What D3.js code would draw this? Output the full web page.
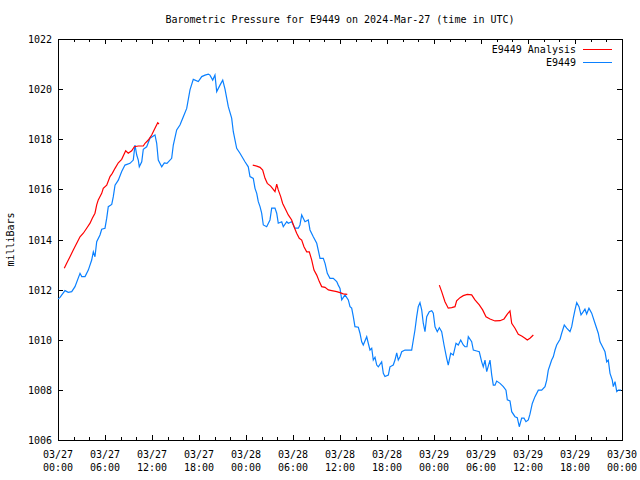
<!DOCTYPE html>
<html><head><meta charset="utf-8">
<script src="https://cdn.jsdelivr.net/npm/d3@7"></script>
<style>
body{margin:0;background:#fff;}
svg{display:block;}
text{font-family:"DejaVu Sans Mono",monospace;font-size:10px;fill:#000;}
</style></head>
<body>
<svg id="c" width="640" height="480"></svg>
<script>
// hours since 2024-03-27 00:00 UTC
const stationHours = [0.0,0.26,0.89,1.31,1.75,2.17,2.81,3.03,3.45,3.87,4.30,4.51,4.72,4.94,5.36,5.58,6.00,6.22,6.42,6.86,7.06,7.28,7.70,8.13,8.55,9.19,9.61,9.83,10.05,10.25,10.38,10.69,10.89,11.32,11.74,12.38,12.60,12.80,13.24,13.57,13.91,14.51,14.72,15.15,15.57,16.00,16.43,16.85,17.27,17.91,18.35,18.77,19.19,19.40,19.75,20.04,20.26,20.68,21.03,21.32,21.74,22.17,22.38,22.81,23.23,23.87,24.29,24.51,24.93,25.15,25.37,25.57,25.79,26.00,26.21,26.64,27.06,27.28,27.70,27.92,28.12,28.56,28.76,29.20,29.40,29.83,30.26,30.68,30.89,31.11,31.53,31.95,32.17,32.59,33.03,33.45,33.87,34.09,34.38,34.72,35.14,35.58,35.78,36.00,36.22,36.64,37.06,37.28,37.49,37.70,37.91,38.34,38.55,38.77,38.97,39.41,39.61,39.83,40.05,40.25,40.47,40.69,40.89,41.32,41.53,41.74,42.17,42.38,42.80,43.02,43.24,43.44,43.66,43.88,44.30,45.15,45.36,45.57,45.79,45.99,46.21,46.43,46.63,46.85,47.07,47.40,47.71,47.91,48.13,48.42,48.68,48.98,49.28,49.62,49.82,50.13,50.46,50.81,51.10,51.41,51.74,51.96,52.21,52.38,52.81,53.02,53.45,53.78,54.09,54.29,54.51,54.73,55.15,55.37,55.57,55.79,56.00,56.43,56.85,57.19,57.36,57.70,57.92,58.34,58.63,58.89,59.19,59.49,59.74,60.04,60.25,60.55,60.89,61.32,61.75,62.17,62.39,62.59,62.81,63.02,63.23,63.45,63.66,64.09,64.30,64.63,64.94,65.36,65.58,65.78,66.00,66.22,66.51,66.77,67.06,67.27,67.49,67.78,68.13,68.55,68.97,69.19,69.61,69.83,70.05,70.25,70.47,70.76,70.89,71.11,71.33,71.54,71.88];
const stationValues = [1011.62,1011.69,1011.96,1011.89,1011.92,1012.12,1012.65,1012.52,1012.52,1012.78,1013.18,1013.51,1013.31,1013.91,1014.18,1014.41,1014.45,1014.85,1015.31,1015.40,1015.71,1016.17,1016.37,1016.71,1016.97,1017.04,1017.17,1017.77,1017.37,1017.17,1016.90,1017.10,1017.60,1017.70,1018.04,1018.17,1017.84,1017.17,1016.90,1017.06,1017.04,1017.24,1017.77,1018.37,1018.57,1018.90,1019.23,1019.97,1020.39,1020.30,1020.50,1020.56,1020.60,1020.56,1020.36,1020.56,1019.90,1020.16,1020.36,1020.00,1019.30,1018.84,1018.30,1017.64,1017.44,1017.10,1016.90,1016.51,1016.44,1016.04,1015.84,1015.51,1015.31,1015.05,1014.58,1014.51,1014.78,1015.25,1015.25,1015.05,1014.65,1014.71,1014.51,1014.71,1014.65,1014.71,1014.45,1014.45,1014.58,1014.98,1014.71,1014.78,1014.38,1014.11,1013.85,1013.25,1013.25,1013.05,1012.65,1012.45,1012.45,1012.32,1012.18,1012.05,1011.59,1011.79,1011.59,1011.32,1011.26,1010.92,1010.52,1010.50,1010.26,1009.92,1009.79,1010.12,1009.86,1009.59,1009.66,1009.19,1009.30,1008.99,1008.92,1009.12,1008.66,1008.53,1008.59,1008.92,1008.99,1009.19,1009.48,1009.19,1009.32,1009.52,1009.59,1009.59,1009.99,1010.39,1010.92,1011.32,1011.48,1011.19,1010.66,1010.32,1010.92,1011.12,1011.16,1011.06,1010.52,1010.32,1010.48,1010.32,1009.79,1009.26,1008.99,1009.46,1009.39,1009.86,1009.79,1009.99,1009.79,1009.72,1009.72,1010.12,1009.92,1009.59,1009.55,1009.52,1009.12,1008.92,1009.19,1008.73,1009.19,1008.59,1008.19,1008.19,1008.35,1008.26,1008.13,1007.99,1007.60,1007.56,1007.13,1006.93,1006.89,1006.53,1006.87,1006.87,1006.73,1006.80,1007.03,1007.46,1007.73,1007.99,1007.99,1008.13,1008.39,1008.79,1008.99,1009.19,1009.32,1009.59,1009.79,1010.02,1010.26,1010.59,1010.46,1010.32,1010.52,1010.86,1011.19,1011.48,1011.32,1010.99,1011.12,1011.22,1011.03,1011.26,1011.06,1010.66,1010.26,1009.92,1009.66,1009.52,1009.12,1009.19,1008.66,1008.39,1008.13,1008.33,1007.93,1007.99,1007.99];

// analysis series; null marks a gap between segments
const analysisHours = [0.80,1.11,1.53,1.95,2.39,2.81,3.23,3.66,4.09,4.38,4.72,4.94,5.14,5.58,5.78,6.22,6.64,6.93,7.28,7.70,8.13,8.64,8.97,9.41,9.74,10.25,10.89,11.11,11.53,11.96,12.38,12.73,12.89,
  18.0,
  24.86,25.37,25.79,26.13,26.43,26.72,27.15,27.48,27.70,27.92,28.12,28.43,28.68,28.98,29.40,29.83,30.13,30.47,30.80,31.11,31.40,31.75,32.08,32.39,32.68,33.03,33.36,33.66,34.09,34.51,34.94,35.58,36.00,36.42,36.93,
  42.0,
  48.68,48.98,49.40,49.82,50.26,50.68,50.89,51.32,51.74,52.25,52.81,53.23,53.78,54.21,54.64,55.15,55.79,56.43,56.94,57.36,57.70,57.92,58.34,58.76,59.19,59.62,59.91,60.25,60.68];
const analysisValues = [1012.85,1013.05,1013.31,1013.58,1013.85,1014.11,1014.25,1014.45,1014.65,1014.85,1015.05,1015.38,1015.58,1015.84,1016.04,1016.17,1016.51,1016.64,1016.84,1017.06,1017.20,1017.54,1017.44,1017.54,1017.70,1017.73,1017.73,1017.84,1017.97,1018.17,1018.44,1018.66,1018.61,
  null,
  1016.97,1016.93,1016.88,1016.77,1016.44,1016.24,1016.13,1016.00,1015.91,1016.21,1015.98,1015.71,1015.44,1015.25,1014.98,1014.78,1014.51,1014.25,1014.05,1013.98,1013.71,1013.51,1013.51,1013.18,1012.78,1012.58,1012.32,1012.12,1012.09,1011.99,1011.96,1011.92,1011.88,1011.83,1011.81,
  null,
  1012.18,1011.92,1011.52,1011.26,1011.28,1011.32,1011.55,1011.68,1011.76,1011.81,1011.79,1011.59,1011.39,1011.19,1010.92,1010.83,1010.75,1010.76,1010.83,1011.02,1011.15,1010.66,1010.46,1010.22,1010.15,1010.06,1009.99,1010.06,1010.19];

const xTickHours = [0,6,12,18,24,30,36,42,48,54,60,66,72];
const xTickDates = ["03/27","03/27","03/27","03/27","03/28","03/28","03/28","03/28","03/29","03/29","03/29","03/29","03/30"];
const xTickTimes = ["00:00","06:00","12:00","18:00","00:00","06:00","12:00","18:00","00:00","06:00","12:00","18:00","00:00"];
const xMinorHours = d3.range(0, 73, 2).filter(h => h % 6 !== 0);
const yTicks = [1006,1008,1010,1012,1014,1016,1018,1020,1022];

const title = "Barometric Pressure for E9449 on 2024-Mar-27 (time in UTC)";
const yTitle = "milliBars";
const seriesNames = ["E9449 Analysis", "E9449"];
const seriesColors = ["#ff0000", "#0a80ff"];

const L = 58, R = 622, T = 39, B = 440;
const x = d3.scaleLinear().domain([0, 72]).range([L, R]);
const y = d3.scaleLinear().domain([1006, 1022]).range([B, T]);

const svg = d3.select("#c");

svg.append("text").attr("x", 340).attr("y", 23).attr("text-anchor", "middle").text(title);
svg.append("text").attr("transform", "translate(14," + ((T + B) / 2) + ") rotate(-90)")
  .attr("text-anchor", "middle").text(yTitle);

const g = svg.append("g").attr("shape-rendering", "crispEdges");

function styleAxis(sel) { sel.select(".domain").remove(); sel.selectAll("line").attr("stroke", "#000"); sel.selectAll("text").remove(); }
g.append("g").attr("transform", `translate(0,${B})`).call(d3.axisBottom(x).tickValues(xTickHours).tickSize(-5).tickFormat("")).call(styleAxis);
g.append("g").attr("transform", `translate(0,${B})`).call(d3.axisBottom(x).tickValues(xMinorHours).tickSize(-3).tickFormat("")).call(styleAxis);
g.append("g").attr("transform", `translate(0,${T})`).call(d3.axisTop(x).tickValues(xTickHours).tickSize(-5).tickFormat("")).call(styleAxis);
g.append("g").attr("transform", `translate(0,${T})`).call(d3.axisTop(x).tickValues(xMinorHours).tickSize(-3).tickFormat("")).call(styleAxis);
g.append("g").attr("transform", `translate(${L},0)`).call(d3.axisLeft(y).tickValues(yTicks).tickSize(-5).tickFormat("")).call(styleAxis);
g.append("g").attr("transform", `translate(${R},0)`).call(d3.axisRight(y).tickValues(yTicks).tickSize(-5).tickFormat("")).call(styleAxis);

svg.append("g").selectAll("text").data(yTicks).join("text")
  .attr("x", L - 6).attr("y", d => y(d) + 4).attr("text-anchor", "end").text(d => d);

const xl = svg.append("g").selectAll("g").data(xTickHours).join("g");
xl.append("text").attr("x", d => x(d)).attr("y", B + 18).attr("text-anchor", "middle").text((d, i) => xTickDates[i]);
xl.append("text").attr("x", d => x(d)).attr("y", B + 31).attr("text-anchor", "middle").text((d, i) => xTickTimes[i]);

const line = d3.line().defined(d => d[1] !== null).x(d => x(d[0])).y(d => y(d[1]));
const stationData = stationHours.map((h, i) => [h, stationValues[i]]);
const analysisData = analysisHours.map((h, i) => [h, analysisValues[i]]);

const plot = svg.append("g");
plot.append("path").datum(stationData).attr("d", line).attr("fill", "none")
  .attr("stroke", seriesColors[1]).attr("stroke-width", 1.2);
plot.append("path").datum(analysisData).attr("d", line).attr("fill", "none")
  .attr("stroke", seriesColors[0]).attr("stroke-width", 1.2);

g.append("rect").attr("x", L + 0.5).attr("y", T + 0.5).attr("width", R - L).attr("height", B - T)
  .attr("fill", "none").attr("stroke", "#000");

const leg = svg.append("g");
seriesNames.forEach((name, i) => {
  const ly = 49 + i * 13;
  leg.append("text").attr("x", 576).attr("y", ly + 4).attr("text-anchor", "end").text(name);
  leg.append("line").attr("x1", 583).attr("x2", 612).attr("y1", ly + 0.5).attr("y2", ly + 0.5)
    .attr("stroke", seriesColors[i]).attr("stroke-width", 1).attr("shape-rendering", "crispEdges");
});
</script>
</body></html>
